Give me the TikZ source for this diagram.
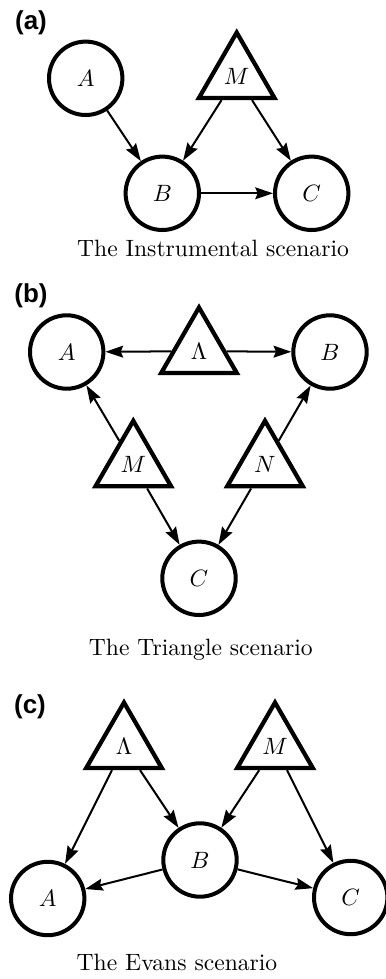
\documentclass[tikz,border=0pt]{standalone}
\usepackage{fontspec}
\newfontfamily\lblfont{Liberation Sans}
\usetikzlibrary{shapes.geometric,arrows.meta}
\begin{document}
\begin{tikzpicture}[x=0.4237pt,y=-0.4237pt,
  var/.style={circle,draw,line width=1.7pt,minimum size=31.1pt,inner sep=0pt},
  lat/.style={regular polygon,regular polygon sides=3,draw,line width=1.8pt,minimum size=37pt,inner sep=0pt},
  edge/.style={-{Stealth[length=7.5pt,width=5pt,inset=1pt]},line width=0.85pt},
  panel/.style={font=\lblfont\bfseries\fontsize{11}{13}\selectfont},
  captext/.style={anchor=base}]
\useasboundingbox (0,0) rectangle (386,979);
% (a)
\node[panel] (la) at (31,23) {(a)};
\node[var] (aA) at (85.7,78.3) {$A$};
\node[lat] (aM) at (236.7,76.2) {$M$};
\node[var] (aB) at (162.3,193.3) {$B$};
\node[var] (aC) at (311.7,193.3) {$C$};
\node[captext] (ca) at (213,256) {The Instrumental scenario};
\draw[edge] (aA) -- (aB);
\draw[edge] (aM) -- (aB);
\draw[edge] (aM) -- (aC);
\draw[edge] (aB) -- (aC);
% (b)
\node[panel] (lb) at (31,296) {(b)};
\node[var] (bA) at (66.7,352) {$A$};
\node[lat] (bL) at (199,351.2) {$\Lambda$};
\node[var] (bB) at (330,352) {$B$};
\node[lat] (bM) at (133.3,464.5) {$M$};
\node[lat] (bN) at (265,464.5) {$N$};
\node[var] (bC) at (199,578.3) {$C$};
\node[captext] (cb) at (200.8,655) {The Triangle scenario};
\draw[edge] (bL) -- (bA);
\draw[edge] (bL) -- (bB);
\draw[edge] (bM) -- (bA);
\draw[edge] (bM) -- (bC);
\draw[edge] (bN) -- (bB);
\draw[edge] (bN) -- (bC);
% (c)
\node[panel] (lc) at (30,706.7) {(c)};
\node[lat] (cL) at (124,746.2) {$\Lambda$};
\node[lat] (cM) at (275,746.2) {$M$};
\node[var] (cB) at (200,860) {$B$};
\node[var] (cA) at (47.7,898.5) {$A$};
\node[var] (cC) at (350.7,897.5) {$C$};
\node[captext] (cc) at (177,970.7) {The Evans scenario};
\draw[edge] (cL) -- (cA);
\draw[edge] (cL) -- (cB);
\draw[edge] (cM) -- (cB);
\draw[edge] (cM) -- (cC);
\draw[edge] (cB) -- (cA);
\draw[edge] (cB) -- (cC);
\end{tikzpicture}
\end{document}
